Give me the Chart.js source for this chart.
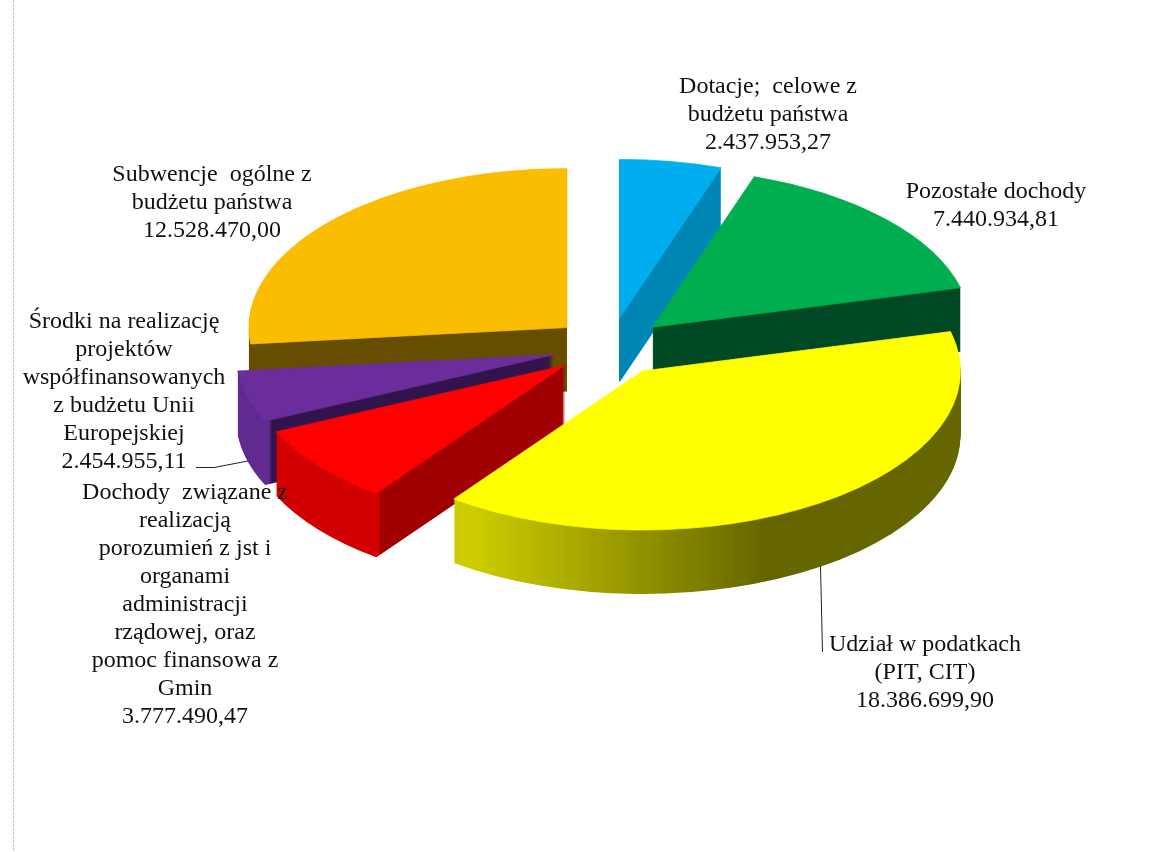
<!DOCTYPE html>
<html>
<head>
<meta charset="utf-8">
<title>Dochody</title>
<script src="https://cdn.jsdelivr.net/npm/chart.js@4"></script>
<style>
  html, body { margin: 0; padding: 0; background: #fff; }
  canvas { display: block; }
</style>
</head>
<body>
<canvas id="pieChart" width="1171" height="852"></canvas>
<script>
// data
const categories = [
  "Dotacje; celowe z budżetu państwa",
  "Pozostałe dochody",
  "Udział w podatkach (PIT, CIT)",
  "Dochody związane z realizacją porozumień z jst i organami administracji rządowej, oraz pomoc finansowa z Gmin",
  "Środki na realizację projektów współfinansowanych z budżetu Unii Europejskiej",
  "Subwencje ogólne z budżetu państwa"
];
const values = [2437953.27, 7440934.81, 18386699.90, 3777490.47, 2454955.11, 12528470.00];
const valueLabels = ["2.437.953,27", "7.440.934,81", "18.386.699,90", "3.777.490,47", "2.454.955,11", "12.528.470,00"];

// label text as wrapped in the picture
const labelLines = [
  ["Dotacje;  celowe z", "budżetu państwa"],
  ["Pozostałe dochody"],
  ["Udział w podatkach", "(PIT, CIT)"],
  ["Dochody  związane z", "realizacją", "porozumień z jst i", "organami", "administracji", "rządowej, oraz", "pomoc finansowa z", "Gmin"],
  ["Środki na realizację", "projektów", "współfinansowanych", "z budżetu Unii", "Europejskiej"],
  ["Subwencje  ogólne z", "budżetu państwa"]
];
// centre x and first baseline of every label
const labelX = [768, 996, 925, 185, 124, 212];
const labelY = [93, 198, 651, 499, 328, 181];
const lineHeight = 28;

const topColors = ["#00AEEF", "#00AE4F", "#FFFF00", "#FF0000", "#6B2D9B", "#FBBD00"];
const cutColors = ["#0086B4", "#004924", "#666600", "#A00000", "#31144B", "#674D00"];
const rimColors = ["#0086B4", "#004924", "#666600", "#D20000", "#602A90", "#674D00"];
const wallOrder = [0, 5, 1, 4, 3, 2];

const pieX = 610, pieY = 347, squash = 0.5, depth = 64, explode = 58, pieRadius = 318;

function tilt(ctx, chart, dy) {
  const cx = (chart.chartArea.left + chart.chartArea.right) / 2;
  const cy = (chart.chartArea.top + chart.chartArea.bottom) / 2;
  ctx.translate(pieX, pieY + dy);
  ctx.scale(1, squash);
  ctx.translate(-cx, -cy);
}

function wallFill(ctx, arc, i) {
  if (i === 2) {
    // the long yellow wall fades from left to right
    const g = ctx.createLinearGradient(452, 0, 740, 0);
    g.addColorStop(0, "#CCCC00");
    g.addColorStop(0.5, "#999900");
    g.addColorStop(1, "#666600");
    return g;
  }
  const g = ctx.createRadialGradient(arc.x, arc.y, 0, arc.x, arc.y, pieRadius);
  g.addColorStop(0, cutColors[i]);
  g.addColorStop(0.975, cutColors[i]);
  g.addColorStop(0.985, rimColors[i]);
  g.addColorStop(1, rimColors[i]);
  return g;
}

const pie3d = {
  id: "pie3d",
  afterDatasetsUpdate(chart) {
    // move every slice out along its middle angle
    chart.getDatasetMeta(0).data.forEach(arc => {
      const mid = (arc.startAngle + arc.endAngle) / 2;
      arc.x += Math.cos(mid) * explode;
      arc.y += Math.sin(mid) * explode;
    });
  },
  beforeDatasetsDraw(chart) {
    const ctx = chart.ctx;
    const arcs = chart.getDatasetMeta(0).data;
    wallOrder.forEach(i => {
      const arc = arcs[i];
      const saved = arc.options;
      for (let d = depth; d >= 1; d--) {
        ctx.save();
        tilt(ctx, chart, d);
        arc.options = Object.assign({}, saved, { backgroundColor: wallFill(ctx, arc, i), borderWidth: 0 });
        arc.draw(ctx);
        ctx.restore();
      }
      arc.options = saved;
    });
    ctx.save();
    tilt(ctx, chart, 0);
  },
  afterDatasetsDraw(chart) {
    chart.ctx.restore();
  },
  afterDraw(chart) {
    const ctx = chart.ctx;
    ctx.save();

    // faint page edge
    ctx.strokeStyle = "#c8c8c8";
    ctx.lineWidth = 1;
    ctx.setLineDash([3, 1]);
    ctx.beginPath();
    ctx.moveTo(13.5, 0);
    ctx.lineTo(13.5, 852);
    ctx.stroke();
    ctx.setLineDash([]);

    // leader lines
    ctx.strokeStyle = "#222";
    ctx.beginPath();
    ctx.moveTo(820.5, 566);
    ctx.lineTo(822.5, 652);
    ctx.moveTo(196, 467.5);
    ctx.lineTo(214, 467.5);
    ctx.lineTo(248, 461);
    ctx.stroke();

    ctx.fillStyle = "#111";
    ctx.font = "24px 'Liberation Serif'";
    ctx.textAlign = "center";
    ctx.textBaseline = "alphabetic";
    labelLines.forEach((lines, i) => {
      lines.concat(valueLabels[i]).forEach((line, k) => {
        ctx.fillText(line, labelX[i], labelY[i] + k * lineHeight);
      });
    });
    ctx.restore();
  }
};

new Chart(document.getElementById("pieChart"), {
  type: "pie",
  data: {
    labels: categories,
    datasets: [{
      data: values,
      backgroundColor: topColors,
      borderColor: topColors,
      borderWidth: 1,
      radius: pieRadius
    }]
  },
  options: {
    responsive: false,
    animation: false,
    clip: false,
    layout: { padding: 0 },
    plugins: { legend: { display: false }, tooltip: { enabled: false } }
  },
  plugins: [pie3d]
});
</script>
</body>
</html>
